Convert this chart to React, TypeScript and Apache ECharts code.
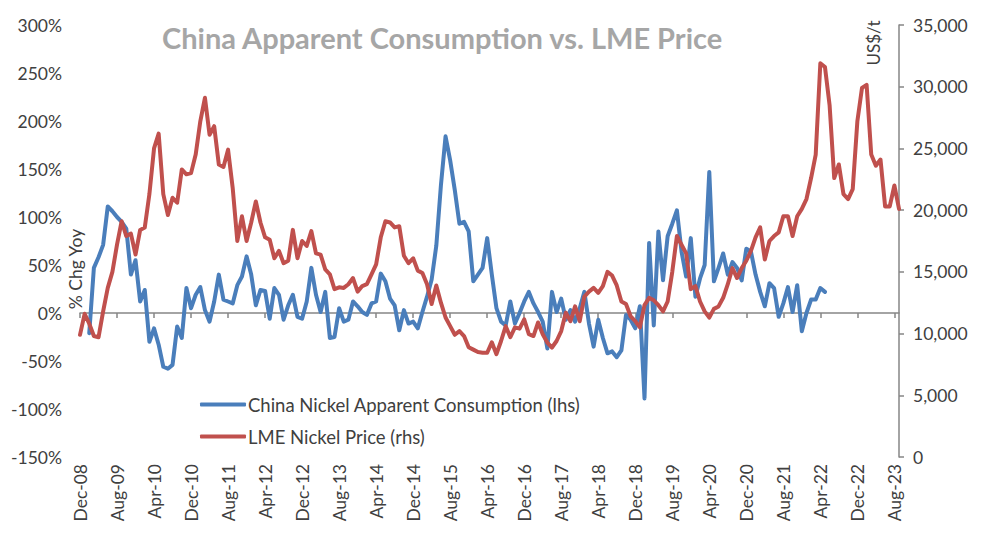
import React, { useEffect, useRef } from "react";
import * as echarts from "echarts";

const MONTHS = ["Jan", "Feb", "Mar", "Apr", "May", "Jun", "Jul", "Aug", "Sep", "Oct", "Nov", "Dec"];
const START_YEAR = 2008;
const START_MONTH = 11; // Dec
const N_MONTHS = 178; // Dec-08 .. Sep-23

const categories: string[] = Array.from({ length: N_MONTHS }, (_, i) => {
  const k = START_MONTH + i;
  const y = START_YEAR + Math.floor(k / 12);
  return `${MONTHS[k % 12]}-${String(y % 100).padStart(2, "0")}`;
});

// China Nickel Apparent Consumption, % chg YoY (lhs)
const consumptionYoY: (number | null)[] = [
  null, null, -21, 47, 58, 71, 111, 106, 100, 95, 88, 40, 55, 12, 24, -30, -16, -33, -56, -58,
  -54, -14, -26, 26, 5, 19, 27, 3, -9, 12, 40, 14, 12, 10, 29, 38, 59, 40, 8, 24,
  23, -6, 26, 19, -7, 8, 19, -4, -6, 12, 47, 19, 1, 22, -26, -25, 5, -9, -7, 12,
  7, 1, -2, 10, 12, 41, 33, 15, 8, -18, 3, -11, -9, -16, 1, 17, 35, 70, 133, 184,
  159, 128, 93, 95, 85, 33, 40, 47, 78, 40, 5, -9, -13, 12, -11, 0, 12, 22, 10, 1,
  -9, -37, 22, 1, 15, -7, 3, -9, 5, 22, -11, -35, -7, -26, -42, -40, -46, -39, -2, -7,
  -16, 7, -89, 73, -13, 85, 34, 80, 93, 107, 64, 38, 78, 17, 36, 50, 147, 33, 47, 62,
  40, 53, 47, 34, 67, 64, 40, 22, 7, 31, 26, -4, 10, 27, 1, 29, -19, 0, 14, 14,
  26, 22,
];

// LME Nickel Price, US$/t (rhs)
const nickelPrice: number[] = [
  9900, 11600, 10800, 9800, 9700, 11800, 13700, 15000, 17200, 19100, 17900, 18100, 16400, 18400, 18600, 21300, 25000, 26200, 21300, 19600,
  21000, 20600, 23300, 22900, 23000, 24500, 27200, 29100, 26100, 26800, 23700, 23500, 24900, 21800, 17500, 19500, 17500, 19000, 20700, 19000,
  17800, 17600, 16100, 16700, 15700, 15900, 18400, 16100, 17500, 17100, 18300, 16500, 16400, 15200, 14800, 13600, 13750, 13700, 14000, 14500,
  13400, 13850, 14000, 14800, 15600, 17800, 19100, 19000, 18600, 18700, 16300, 15700, 16100, 15100, 14900, 14000, 12400, 13900, 12500, 11300,
  10600, 9900, 10200, 9800, 8900, 8700, 8500, 8450, 8450, 9300, 8330, 9400, 10600, 9700, 10500, 10400, 11150, 9950, 9800, 10900,
  9950, 9270, 8870, 9400, 10200, 11700, 11000, 12200, 11000, 13000, 13400, 13700, 13300, 13850, 15000, 14700, 13900, 12600, 12400, 11400,
  11000, 10500, 12300, 12900, 12700, 12300, 11800, 12600, 15000, 17900, 17200, 16500, 13600, 13850, 12600, 11800, 11300, 12000, 12200, 12900,
  14000, 15300, 14500, 15300, 15900, 16700, 17800, 18600, 16000, 17500, 17900, 18200, 19500, 19500, 17900, 19500, 20100, 20900, 22600, 24500,
  31900, 31600, 28500, 22600, 23700, 21300, 20900, 21700, 27200, 29900, 30150, 24500, 23600, 24100, 20300, 20300, 22000, 20100,
];

const LEFT_MIN = -150;
const LEFT_MAX = 300;
const LEFT_STEP = 50;
const RIGHT_MIN = 0;
const RIGHT_MAX = 35000;
const RIGHT_STEP = 5000;
const LABEL_EVERY = 8;

const TITLE = "China Apparent Consumption vs. LME Price";
const SERIES_A = "China Nickel Apparent Consumption (lhs)";
const SERIES_B = "LME Nickel Price (rhs)";

const FONT = "Lato";
const TEXT = "#404040";
const AXIS = "#868686";

export default function App() {
  const ref = useRef<HTMLDivElement>(null);

  useEffect(() => {
    if (!ref.current) return;
    const chart = echarts.init(ref.current, undefined, { renderer: "svg" });
    chart.setOption({
      animation: false,
      backgroundColor: "#ffffff",
      textStyle: { fontFamily: FONT },
      title: {
        text: TITLE,
        left: 157,
        top: 18,
        textStyle: { fontFamily: FONT, fontSize: 29, fontWeight: "bold", color: "#A6A6A6" },
      },
      legend: {
        data: [SERIES_A, SERIES_B],
        orient: "vertical",
        left: 195,
        top: 390,
        itemWidth: 46,
        itemHeight: 4,
        itemGap: 13,
        icon: "roundRect",
        textStyle: { fontFamily: FONT, fontSize: 18.5, color: TEXT, padding: [0, 0, 0, -3] },
      },
      grid: { left: 80, right: 101, top: 25, bottom: 84, containLabel: false },
      xAxis: [
        {
          type: "category",
          data: categories,
          boundaryGap: false,
          position: "bottom",
          axisLine: { show: false, onZero: false },
          axisTick: { show: false },
          axisLabel: {
            interval: LABEL_EVERY - 1,
            rotate: 90,
            margin: 7,
            color: TEXT,
            fontFamily: FONT,
            fontSize: 17.5,
          },
          splitLine: { show: false },
        },
        {
          type: "category",
          data: categories,
          boundaryGap: false,
          position: "bottom",
          axisLine: { show: true, onZero: true, onZeroAxisIndex: 0, lineStyle: { color: AXIS, width: 1.5 } },
          axisTick: { show: true, interval: LABEL_EVERY - 1, length: 5, lineStyle: { color: AXIS, width: 1.5 } },
          axisLabel: { show: false },
          splitLine: { show: false },
        },
      ],
      yAxis: [
        {
          type: "value",
          min: LEFT_MIN,
          max: LEFT_MAX,
          interval: LEFT_STEP,
          position: "left",
          axisLine: { show: false },
          axisTick: { show: false },
          splitLine: { show: false },
          axisLabel: {
            formatter: (v: number) => `${v}%`,
            margin: 18,
            color: TEXT,
            fontFamily: FONT,
            fontSize: 17.5,
          },
        },
        {
          type: "value",
          min: RIGHT_MIN,
          max: RIGHT_MAX,
          interval: RIGHT_STEP,
          position: "right",
          axisLine: { show: true, onZero: false, lineStyle: { color: AXIS, width: 1.5 } },
          axisTick: { show: true, length: 5, lineStyle: { color: AXIS, width: 1.5 } },
          splitLine: { show: false },
          axisLabel: {
            formatter: (v: number) => v.toLocaleString("en-US"),
            margin: 14,
            color: TEXT,
            fontFamily: FONT,
            fontSize: 17.5,
          },
        },
      ],
      series: [
        {
          name: SERIES_A,
          type: "line",
          xAxisIndex: 0,
          yAxisIndex: 0,
          data: consumptionYoY,
          showSymbol: false,
          symbol: "none",
          color: "#4A7EBB",
          lineStyle: { width: 4, color: "#4A7EBB", cap: "round", join: "round" },
          connectNulls: false,
          z: 2,
        },
        {
          name: SERIES_B,
          type: "line",
          xAxisIndex: 0,
          yAxisIndex: 1,
          data: nickelPrice,
          showSymbol: false,
          symbol: "none",
          color: "#C0504D",
          lineStyle: { width: 4, color: "#C0504D", cap: "round", join: "round" },
          z: 3,
        },
      ],
      graphic: [
        {
          type: "text",
          x: 75,
          y: 269,
          rotation: Math.PI / 2,
          style: {
            text: "% Chg Yoy",
            fill: TEXT,
            fontFamily: FONT,
            fontSize: 17.5,
            textAlign: "center",
            textVerticalAlign: "middle",
          },
        },
        {
          type: "text",
          x: 873,
          y: 43,
          rotation: Math.PI / 2,
          style: {
            text: "US$/t",
            fill: TEXT,
            fontFamily: FONT,
            fontSize: 17,
            textAlign: "center",
            textVerticalAlign: "middle",
          },
        },
      ],
    });
    return () => chart.dispose();
  }, []);

  return <div ref={ref} style={{ width: 1000, height: 541, margin: -8 }} />;
}
